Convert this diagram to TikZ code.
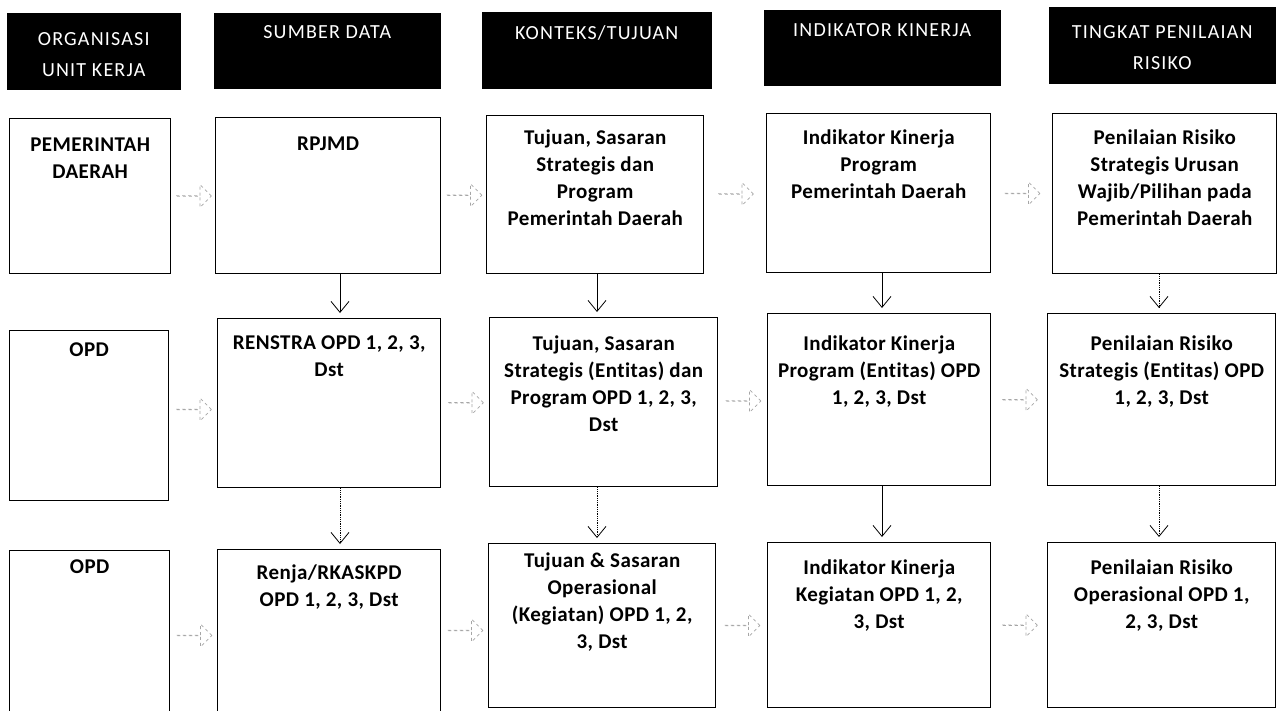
\documentclass[tikz,border=0pt]{standalone}
\usepackage{fontspec}
\setmainfont{Carlito}
\newfontfamily\hdrfont[LetterSpace=6,Ligatures=NoCommon]{Carlito}
\newfontfamily\bodyfont[LetterSpace=2,Ligatures=NoCommon]{Carlito}
\usetikzlibrary{arrows.meta,shapes.arrows,calc}
\tikzset{
  hdr/.style={draw=black, fill=black, anchor=north west, inner sep=0pt},
  hdrtxt/.style={text=white, font={\hdrfont\fontsize{20}{31}\selectfont}, align=center, anchor=north, inner sep=0pt},
  box/.style={draw=black, line width=1.4pt, fill=white, anchor=north west, inner sep=0pt},
  boxtxt/.style={font={\bodyfont\bfseries\fontsize{21}{27}\selectfont}, align=center, anchor=north, inner sep=0pt},
  varr/.style={draw=black, line width=0.8pt, -{Straight Barb[length=11pt,width=18pt]}, shorten >=5pt},
  vdot/.style={varr, densely dotted},
  harr/.style={single arrow, draw=black!35, dashed, line width=0.7pt, minimum width=22pt,
    single arrow head extend=11pt, inner sep=0pt, minimum height=36pt}
}
\begin{document}
\begin{tikzpicture}[x=1pt,y=-1pt]
\useasboundingbox[fill=white] (0,0) rectangle (1280,710);
% headers
\node[hdr, minimum width=173pt, minimum height=76pt] (h1) at (7,13) {};
\node[hdr, minimum width=226pt, minimum height=75pt] (h2) at (214,13) {};
\node[hdr, minimum width=229pt, minimum height=76pt] (h3) at (482,12) {};
\node[hdr, minimum width=236pt, minimum height=75pt] (h4) at (764,10) {};
\node[hdr, minimum width=226pt, minimum height=76pt] (h5) at (1049,7) {};
\node[hdrtxt] (ht1) at ($(h1.north)+(0,19)$) {ORGANISASI\\UNIT KERJA};
\node[hdrtxt] (ht2) at ($(h2.north)+(0,12)$) {SUMBER DATA};
\node[hdrtxt] (ht3) at ($(h3.north)+(0,13)$) {KONTEKS/TUJUAN};
\node[hdrtxt] (ht4) at ($(h4.north)+(0,13)$) {INDIKATOR KINERJA};
\node[hdrtxt] (ht5) at ($(h5.north)+(0,18)$) {TINGKAT PENILAIAN\\RISIKO};
% row 1
\node[box, minimum width=161pt, minimum height=155pt] (b11) at (9,118) {};
\node[box, minimum width=225pt, minimum height=156pt] (b12) at (215,117) {};
\node[box, minimum width=217pt, minimum height=158pt] (b13) at (486,115) {};
\node[box, minimum width=224pt, minimum height=159pt] (b14) at (766,113) {};
\node[box, minimum width=224pt, minimum height=160pt] (b15) at (1052,113) {};
% row 2
\node[box, minimum width=159pt, minimum height=170pt] (b21) at (9,330) {};
\node[box, minimum width=223pt, minimum height=169pt] (b22) at (217,318) {};
\node[box, minimum width=228pt, minimum height=169pt] (b23) at (489,317) {};
\node[box, minimum width=223pt, minimum height=172pt] (b24) at (767,313) {};
\node[box, minimum width=228pt, minimum height=172pt] (b25) at (1047,313) {};
% row 3
\node[box, minimum width=160pt, minimum height=170pt] (b31) at (9,550) {};
\node[box, minimum width=223pt, minimum height=171pt] (b32) at (217,549) {};
\node[box, minimum width=227pt, minimum height=164pt] (b33) at (488,543) {};
\node[box, minimum width=223pt, minimum height=165pt] (b34) at (767,542) {};
\node[box, minimum width=228pt, minimum height=165pt] (b35) at (1047,542) {};
% texts row 1
\node[boxtxt] (t11) at ($(b11.north)+(0,20)$) {PEMERINTAH\\DAERAH};
\node[boxtxt] (t12) at ($(b12.north)+(0,20)$) {RPJMD};
\node[boxtxt] (t13) at ($(b13.north)+(0,15)$) {Tujuan, Sasaran\\Strategis dan\\Program\\Pemerintah Daerah};
\node[boxtxt] (t14) at ($(b14.north)+(0,17)$) {Indikator Kinerja\\Program\\Pemerintah Daerah};
\node[boxtxt] (t15) at ($(b15.north)+(0,17)$) {Penilaian Risiko\\Strategis Urusan\\Wajib/Pilihan pada\\Pemerintah Daerah};
% texts row 2
\node[boxtxt] (t21) at ($(b21.north)+(0,13)$) {OPD};
\node[boxtxt] (t22) at ($(b22.north)+(0,18)$) {RENSTRA OPD 1, 2, 3,\\Dst};
\node[boxtxt] (t23) at ($(b23.north)+(0,19)$) {Tujuan, Sasaran\\Strategis (Entitas) dan\\Program OPD 1, 2, 3,\\Dst};
\node[boxtxt] (t24) at ($(b24.north)+(0,23)$) {Indikator Kinerja\\Program (Entitas) OPD\\1, 2, 3, Dst};
\node[boxtxt] (t25) at ($(b25.north)+(0,23)$) {Penilaian Risiko\\Strategis (Entitas) OPD\\1, 2, 3, Dst};
% texts row 3
\node[boxtxt] (t31) at ($(b31.north)+(0,10)$) {OPD};
\node[boxtxt] (t32) at ($(b32.north)+(0,16)$) {Renja/RKASKPD\\OPD 1, 2, 3, Dst};
\node[boxtxt] (t33) at ($(b33.north)+(0,10)$) {Tujuan \& Sasaran\\Operasional\\(Kegiatan) OPD 1, 2,\\3, Dst};
\node[boxtxt] (t34) at ($(b34.north)+(0,18)$) {Indikator Kinerja\\Kegiatan OPD 1, 2,\\3, Dst};
\node[boxtxt] (t35) at ($(b35.north)+(0,18)$) {Penilaian Risiko\\Operasional OPD 1,\\2, 3, Dst};
% vertical arrow columns
\coordinate (ax2) at (340,0);
\coordinate (ax3) at (597,0);
\coordinate (ax4) at (882,0);
\coordinate (ax5) at (1159,0);
\draw[varr] (b12.south -| ax2) -- (b22.north -| ax2);
\draw[varr] (b13.south -| ax3) -- (b23.north -| ax3);
\draw[varr] (b14.south -| ax4) -- (b24.north -| ax4);
\draw[vdot] (b15.south -| ax5) -- (b25.north -| ax5);
\draw[vdot] (b22.south -| ax2) -- (b32.north -| ax2);
\draw[vdot] (b23.south -| ax3) -- (b33.north -| ax3);
\draw[varr] (b24.south -| ax4) -- (b34.north -| ax4);
\draw[vdot] (b25.south -| ax5) -- (b35.north -| ax5);
% faint block arrows
\node[harr] (a112) at ($(b11.east)!0.5!(b12.west)$) {};
\node[harr] (a123) at ($(b12.east)!0.5!(b13.west)$) {};
\node[harr] (a134) at ($(b13.east)!0.5!(b14.west)$) {};
\node[harr] (a145) at ($(b14.east)!0.5!(b15.west)$) {};
\node[harr] (a212) at ($(b21.east)!0.5!(b22.west)$) {};
\node[harr] (a223) at ($(b22.east)!0.5!(b23.west)$) {};
\node[harr] (a234) at ($(b23.east)!0.5!(b24.west)$) {};
\node[harr] (a245) at ($(b24.east)!0.5!(b25.west)$) {};
\node[harr] (a312) at ($(b31.east)!0.5!(b32.west)$) {};
\node[harr] (a323) at ($(b32.east)!0.5!(b33.west)$) {};
\node[harr] (a334) at ($(b33.east)!0.5!(b34.west)$) {};
\node[harr] (a345) at ($(b34.east)!0.5!(b35.west)$) {};
\end{tikzpicture}
\end{document}
